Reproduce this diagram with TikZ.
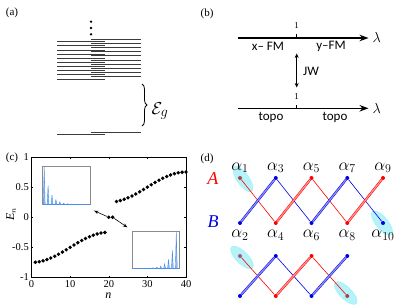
\documentclass[tikz,border=0pt]{standalone}
\usepackage{fontspec}
\setmainfont{Liberation Serif}
\newfontfamily\labfont{Carlito}
\usepackage{xcolor}
\definecolor{cred}{HTML}{FF0000}
\definecolor{cblue}{HTML}{0000E6}
\definecolor{cline}{HTML}{3C3C3C}
\definecolor{cspike}{HTML}{4A8FE8}
\definecolor{cframe}{HTML}{8C8C8C}
\definecolor{ccyan}{HTML}{B6F2F8}
\definecolor{cbrown}{HTML}{A04A4E}
\definecolor{cmauve}{HTML}{9A5A86}
\usepackage{amsmath,amssymb}
\usepackage{tikz}
\usetikzlibrary{positioning,arrows.meta,decorations.pathreplacing,shapes.geometric,backgrounds,calc}

\begin{document}
\begin{tikzpicture}[x=1pt, y=-1pt, >=Stealth, font=\fontsize{10.5}{12}\selectfont,
  lvl/.style={draw=cline, line width=0.9pt},
  panel/.style={font=\fontsize{11}{13}\selectfont, inner sep=0pt},
  axisline/.style={line width=1.3pt, -{Stealth[length=9pt, width=6.5pt]}},
  flabel/.style={font=\labfont\fontsize{13}{14}\selectfont, inner sep=0pt},
  epoint/.style={circle, fill=black, inner sep=0pt, minimum size=3.8pt},
  inset/.style={draw=cframe, line width=0.7pt, fill=white},
  spike/.style={draw=cspike, line width=0.4pt, fill=cspike!60},
  site/.style={circle, inner sep=0pt, minimum size=4pt},
  weak/.style={line width=0.6pt},
  strong/.style={line width=0.5pt, double distance=1.3pt},
  blob/.style={ellipse, fill=ccyan, draw=ccyan!70!cyan, line width=0.3pt, minimum width=30pt, minimum height=12pt, inner sep=0pt},
  alab/.style={font=\fontsize{18}{19}\selectfont, inner sep=0pt}]
  \useasboundingbox (0,0) rectangle (399,305);

  \node[panel] (la) at (12,13) {(a)};
  \foreach \k in {0,...,9}{
    \draw[lvl] (57.3,{41.7+4.15*\k}) -- (105,{41.7+4.15*\k});
    \draw[lvl] (90.7,{39.3+4.15*\k}) -- (140.7,{39.3+4.15*\k});
  }
  \draw[lvl] (57.3,134.3) -- (105,134.3);
  \draw[lvl] (90.7,132) -- (140.7,132);
  \foreach \y in {21.7,28,34.3}{\fill (91,\y) circle (1.3pt);}
  \draw[decorate, decoration={brace, amplitude=5pt}, line width=0.8pt] (142,84) -- (142,126);
  \node[font=\fontsize{19}{20}\selectfont] (gap) at (160,111) {$\mathcal{E}_g$};

  \node[panel] (lb) at (207,14) {(b)};
  \coordinate (ua) at (238,38);
  \coordinate (ub) at (368.5,38);
  \coordinate (uc) at (296.7,38);
  \draw[axisline] (ua) -- (ub);
  \draw[line width=0.9pt] (uc) -- ++(0,-3.5);
  \node[right=4pt of ub, font=\fontsize{14}{15}\selectfont, inner sep=0pt] (ul) {$\lambda$};
  \node[font=\fontsize{9}{10}\selectfont, inner sep=0pt] (u1) at (296.7,26) {1};
  \node[flabel] (ux) at (268,46.5) {x– FM};
  \node[flabel] (uy) at (331,46.5) {y–FM};
  \coordinate (ja) at (296.7,53.5);
  \coordinate (jb) at (296.7,87.5);
  \draw[{Stealth[length=4.5pt,width=4pt]}-{Stealth[length=4.5pt,width=4pt]}, line width=0.8pt] (ja) -- (jb);
  \node[flabel] (jw) at (311,71.5) {JW};
  \coordinate (da) at (238,108.3);
  \coordinate (db) at (368.5,108.3);
  \coordinate (dc) at (296.7,108.3);
  \draw[axisline] (da) -- (db);
  \draw[line width=0.9pt] (dc) -- ++(0,-3.5);
  \node[right=4pt of db, font=\fontsize{14}{15}\selectfont, inner sep=0pt] (dl) {$\lambda$};
  \node[font=\fontsize{9}{10}\selectfont, inner sep=0pt] (d1) at (296.7,96.5) {1};
  \node[flabel] (dx) at (271,117.5) {topo};
  \node[flabel] (dy) at (335,117.5) {topo};

  \node[panel] (lc) at (12,158) {(c)};
  \begin{scope}[shift={(31.5,217.25)}, x=3.8625pt, y=60.25pt]
    \draw[line width=0.5pt] (0,-1) rectangle (40,1);
    \foreach \tk in {0,10,20,30,40}{
      \draw[line width=0.5pt] (\tk,-1) -- ++(0,0.03);
      \draw[line width=0.5pt] (\tk,1) -- ++(0,-0.03);
      \node[below=1.5pt, inner sep=1pt] (xt\tk) at (\tk,-1) {\tk};
    }
    \foreach \tk [count=\ci] in {-1,-0.5,0,0.5,1}{
      \draw[line width=0.5pt] (0,\tk) -- ++(0.4,0);
      \draw[line width=0.5pt] (40,\tk) -- ++(-0.4,0);
      \node[left=1.5pt, inner sep=1pt] (yt\ci) at (0,\tk) {\tk};
    }
    \foreach \n in {1,...,40}{
      \pgfmathsetmacro\e{\n<20 ? -(0.5+0.25*cos(9*\n)) : (\n>21 ? 0.5-0.25*cos(9*(\n-20)) : 0)}
      \node[epoint] (p\n) at (\n,\e) {};
    }
  \end{scope}
  \draw[inset] (42.7,166) rectangle (90,204.3);
  \foreach \k in {0,...,10}{
    \pgfmathsetmacro\h{37.5*0.5^\k}
    \draw[spike] ({44.2+3.9*\k-0.9},204.3) -- ({44.2+3.9*\k},{204.3-\h}) -- ({44.2+3.9*\k+0.9},204.3);
  }
  \draw[cspike, line width=0.6pt] (42.7,204.3) -- (90,204.3);
  \draw[inset] (132.7,231) rectangle (179,268.3);
  \foreach \k in {0,...,10}{
    \pgfmathsetmacro\h{36*0.5^\k}
    \draw[spike] ({176.3-3.9*\k-0.9},268.3) -- ({176.3-3.9*\k},{268.3-\h}) -- ({176.3-3.9*\k+0.9},268.3);
  }
  \draw[cspike, line width=0.6pt] (132.7,268.3) -- (179,268.3);
  \coordinate (ia) at (94,210.7);
  \coordinate (ib) at (127.3,227.3);
  \draw[-{Stealth[length=4.5pt,width=3.5pt]}, line width=0.6pt] (p20) -- (ia);
  \draw[-{Stealth[length=4.5pt,width=3.5pt]}, line width=0.6pt] (p21) -- (ib);
  \node[rotate=90, font=\fontsize{12}{13}\selectfont] (ey) at (11,214) {\textit{E}$_n$};
  \node[font=\fontsize{12}{13}\selectfont, inner sep=0pt] (nx) at (108.3,296) {\textit{n}};

  \node[panel] (ld) at (207,159) {(d)};
  \foreach \i/\tp/\bt/\ct/\cb in {0/1/2/cbrown/cblue, 1/3/4/cblue/cred, 2/5/6/cred/cblue, 3/7/8/cblue/cred, 4/9/10/cred/cblue}{
    \node[site, fill=\ct] (a\tp) at ({240+35.75*\i},178) {};
    \node[site, fill=\cb] (a\bt) at ({240+35.75*\i},223) {};
    \node[alab, above=3pt of a\tp] (l\tp) {$\alpha_{\tp}$};
    \node[alab, below=5pt of a\bt] (l\bt) {$\alpha_{\bt}$};
  }
  \foreach \i/\tp/\bt/\ct/\cb in {0/1/2/cmauve/cblue, 1/3/4/cblue/cred, 2/5/6/cred/cblue, 3/7/8/cblue/cbrown}{
    \node[site, fill=\ct] (b\tp) at ({240+35.75*\i},256) {};
    \node[site, fill=\cb] (b\bt) at ({240+35.75*\i},296) {};
  }
  \node[alab, text=cred] (ra) at (213,179) {\textit{A}};
  \node[alab, text=cblue] (rb) at (213,222) {\textit{B}};
  \begin{scope}[on background layer]
    \node[blob, rotate=-55] (e1) at ($(a1)+(3,1)$) {};
    \node[blob, rotate=-50] (e10) at ($(a10)+(-1,0)$) {};
    \node[blob, rotate=-45] (f1) at ($(b1)+(2,1.5)$) {};
    \node[blob, rotate=-45] (f8) at ($(b8)+(-1.5,-3)$) {};
    \foreach \p/\q/\cc in {1/4/cred, 3/6/cblue, 5/8/cred, 7/10/cblue}{\draw[weak, \cc] (a\p) -- (a\q);}
    \foreach \p/\q/\cc in {2/3/cblue, 4/5/cred, 6/7/cblue, 8/9/cred}{\draw[strong, draw=\cc, double=\cc!45] (a\p) -- (a\q);}
    \foreach \p/\q/\cc in {1/4/cred, 3/6/cblue, 5/8/cred}{\draw[weak, \cc] (b\p) -- (b\q);}
    \foreach \p/\q/\cc in {2/3/cblue, 4/5/cred, 6/7/cblue}{\draw[strong, draw=\cc, double=\cc!45] (b\p) -- (b\q);}
  \end{scope}
\end{tikzpicture}
\end{document}
